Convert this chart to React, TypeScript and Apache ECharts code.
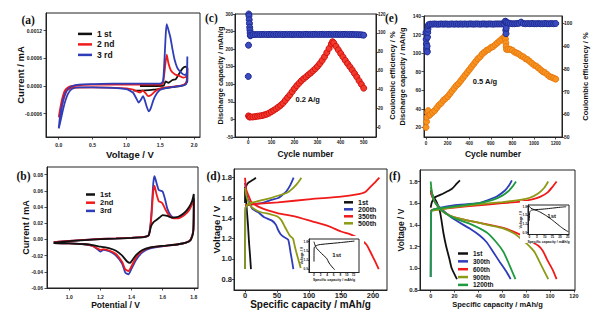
import React, { useEffect, useRef } from "react";
import * as echarts from "echarts";

// ---------- (a) CV curves: [voltage V, current mA]
const cvA1st: number[][] = [[1.2,0.0],[1.4,0.0],[1.55,0.00001],[1.58,0.0001],[1.62,0.00007],[1.68,0.00013],[1.73,0.00015],[1.78,0.00027],[1.83,0.00038],[1.87,0.00042],[1.9,0.00038],[1.9,0.0001],[1.85,0.00002],[1.7,-0.00002],[1.6,-0.00004],[1.4,-0.00008],[1.2,-0.0001],[1.1,-0.0001]];
const cvA2nd: number[][] = [[0,-0.00068],[0.02,-0.0005],[0.05,-0.00028],[0.09,-0.0001],[0.14,-0.00003],[0.2,0.0],[0.5,0.00003],[1.0,0.00003],[1.5,0.00003],[1.54,0.00006],[1.57,0.0004],[1.595,0.00068],[1.62,0.0005],[1.66,0.00033],[1.72,0.00025],[1.78,0.00022],[1.84,0.00018],[1.88,0.0002],[1.9,0.0004],[1.895,0.00012],[1.86,0.00004],[1.78,0.0],[1.65,-0.00002],[1.5,-0.00005],[1.42,-0.00012],[1.36,-0.0002],[1.32,-0.00022],[1.28,-0.00015],[1.24,-0.0001],[1.2,-0.00014],[1.16,-0.00012],[1.1,-0.00008],[1.0,-0.00005],[0.5,-0.00003],[0.2,-0.00004],[0.12,-0.0001],[0.06,-0.00035],[0.02,-0.00058],[0,-0.00068]];
const cvA3rd: number[][] = [[0,-0.00092],[0.02,-0.00065],[0.05,-0.0004],[0.09,-0.00018],[0.14,-0.00006],[0.2,0.0],[0.3,0.00003],[0.5,0.00004],[0.8,0.00005],[1.2,0.00005],[1.5,0.00005],[1.54,0.0001],[1.56,0.0005],[1.58,0.0011],[1.595,0.00134],[1.62,0.00122],[1.65,0.00105],[1.68,0.0008],[1.71,0.00058],[1.75,0.0004],[1.8,0.0003],[1.86,0.00024],[1.89,0.00026],[1.9,0.00064],[1.895,0.0002],[1.88,0.00004],[1.8,0.0],[1.7,-0.00002],[1.6,-0.00004],[1.5,-0.00008],[1.45,-0.00016],[1.4,-0.0003],[1.36,-0.00048],[1.33,-0.00055],[1.3,-0.00045],[1.27,-0.0003],[1.245,-0.00022],[1.21,-0.00031],[1.18,-0.00036],[1.15,-0.00028],[1.1,-0.00015],[1.05,-0.0001],[1.0,-0.00007],[0.8,-0.00004],[0.5,-0.00003],[0.3,-0.00003],[0.2,-0.00006],[0.14,-0.00016],[0.09,-0.00036],[0.05,-0.0006],[0.02,-0.0008],[0,-0.00092]];
const aVoltTicks = [0, 0.5, 1.0, 1.5, 2.0];
const aCurrentTicks = [-0.0006, 0, 0.0006, 0.0012];

// ---------- (b) CV curves: [potential V, current mA]
const cvB1st: number[][] = [[0.9,-0.004],[1.0,-0.0022],[1.1,-0.0008],[1.2,0.0003],[1.3,0.001],[1.4,0.0018],[1.48,0.0028],[1.51,0.005],[1.525,0.016],[1.54,0.021],[1.56,0.024],[1.58,0.027],[1.6,0.03],[1.63,0.029],[1.66,0.027],[1.7,0.028],[1.74,0.033],[1.77,0.04],[1.79,0.048],[1.8,0.056],[1.797,0.01],[1.78,-0.001],[1.75,-0.004],[1.7,-0.006],[1.6,-0.008],[1.52,-0.01],[1.47,-0.013],[1.43,-0.019],[1.4,-0.027],[1.39,-0.029],[1.37,-0.027],[1.34,-0.02],[1.3,-0.014],[1.26,-0.011],[1.2,-0.009],[1.15,-0.007],[1.1,-0.006],[1.0,-0.005],[0.9,-0.0045]];
const cvB2nd: number[][] = [[0.9,-0.0035],[1.0,-0.0018],[1.1,-0.0005],[1.2,0.0005],[1.3,0.0012],[1.4,0.002],[1.48,0.003],[1.51,0.005],[1.525,0.022],[1.54,0.06],[1.548,0.066],[1.56,0.056],[1.575,0.047],[1.59,0.046],[1.6,0.044],[1.615,0.038],[1.64,0.03],[1.67,0.026],[1.7,0.026],[1.74,0.03],[1.77,0.036],[1.79,0.044],[1.8,0.05],[1.797,0.011],[1.78,0.0],[1.75,-0.004],[1.7,-0.006],[1.6,-0.008],[1.52,-0.01],[1.47,-0.014],[1.43,-0.022],[1.4,-0.033],[1.38,-0.039],[1.36,-0.037],[1.34,-0.028],[1.3,-0.018],[1.26,-0.014],[1.22,-0.012],[1.2,-0.013],[1.18,-0.011],[1.15,-0.008],[1.1,-0.006],[1.0,-0.005],[0.9,-0.0045]];
const cvB3rd: number[][] = [[0.9,-0.0035],[1.0,-0.0018],[1.1,-0.0005],[1.2,0.0005],[1.3,0.0012],[1.4,0.002],[1.48,0.003],[1.51,0.005],[1.525,0.025],[1.54,0.07],[1.548,0.078],[1.56,0.07],[1.575,0.061],[1.59,0.06],[1.6,0.059],[1.615,0.05],[1.63,0.038],[1.65,0.03],[1.67,0.027],[1.7,0.027],[1.74,0.031],[1.77,0.037],[1.79,0.045],[1.8,0.051],[1.797,0.012],[1.78,0.0],[1.75,-0.004],[1.7,-0.006],[1.6,-0.0085],[1.52,-0.011],[1.47,-0.016],[1.43,-0.025],[1.4,-0.036],[1.38,-0.043],[1.36,-0.041],[1.34,-0.03],[1.3,-0.02],[1.26,-0.015],[1.22,-0.013],[1.2,-0.015],[1.18,-0.012],[1.15,-0.008],[1.1,-0.006],[1.0,-0.005],[0.9,-0.0045]];
const bPotTicks = [1.0, 1.2, 1.4, 1.6, 1.8];
const bCurrentTicks = [-0.06, -0.04, -0.02, 0, 0.02, 0.04, 0.06, 0.08];

// ---------- (c) cycling at 0.2 A/g
const cCycles = [1,5,10,20,30,40,50,60,70,80,90,100,110,120,130,140,150,160,170,180,190,200,210,220,230,240,250,260,270,280,290,300,310,320,330,340,350,360,365,370,380,390,400,410,420,430,440,450,460,470,480,490,500];
const cCapacity = [10,7,7,7,8,9,10,11,13,15,18,22,26,30,35,40,46,54,62,70,79,88,96,103,110,116,121,127,132,138,144,151,159,168,178,190,202,215,221,218,208,198,188,178,168,159,150,141,131,121,110,100,89];
const cCeCycles = [0,1,2,3,4,5,6,7,8,9,10,20,30,40,50,60,70,80,90,100,110,120,130,140,150,160,170,180,190,200,210,220,230,240,250,260,270,280,290,300,310,320,330,340,350,360,370,380,390,400,410,420,430,440,450,460,470,480,490,500];
const cCe = [54,87,120,118,114,110,106,103,100,97,97.5,98.2,98.3,98.4,98.3,98.4,98.4,98.3,98.4,98.4,98.3,98.4,98.4,98.4,98.3,98.4,98.4,98.4,98.3,98.4,98.4,98.4,98.3,98.4,98.5,98.4,98.4,98.4,98.5,98.4,98.4,98.5,98.4,98.4,98.5,98.4,98.4,98.5,98.4,98.4,98.4,98.5,98.4,98.3,98.4,98.3,98.2,98.1,98.0,97.6];
const cCycleTicks = [0, 100, 200, 300, 400, 500];
const cCapTicks = [-50, 0, 50, 100, 150, 200, 250, 300];
const cCeTicks = [0, 20, 40, 60, 80, 100, 120];

// ---------- (e) cycling at 0.5 A/g
const eCycles = [0,5,10,15,20,30,40,60,80,100,120,140,160,180,200,220,240,260,280,300,320,340,360,380,400,420,440,460,480,500,520,540,560,580,600,620,640,660,680,700,720,730,735,738,742,745,760,780,800,820,840,860,880,900,920,940,960,980,1000,1020,1040,1060,1080,1100,1120,1140,1160,1180,1200];
const eCapacity = [20,26,31,36,38,33,34,36,38,41,44,46,49,51,53,56,59,62,65,67,70,73,76,79,82,85,88,91,94,96,99,101,103,104,106,107,109,111,113,115,117,118,115,111,107,104,104,104,103,101,100,99,97,96,94,93,91,89,87,86,84,82,80,79,77,75,74,73,72];
const eCeCycles = [0,2,4,6,8,10,12,14,16,18,20,25,40,60,80,100,120,140,160,180,200,220,240,260,280,300,320,340,360,380,400,420,440,460,480,500,520,540,560,580,600,620,640,660,680,700,720,730,735,738,740,742,745,760,780,800,820,840,860,880,900,920,940,960,980,1000,1020,1040,1060,1080,1100,1120,1140,1160,1180,1200];
const eCe = [96,93,91,89,88,90,87.5,94,96,97.5,99,99.5,99.7,99.7,99.8,99.7,99.7,99.8,99.7,99.8,99.7,99.7,99.8,99.7,99.8,99.7,99.8,99.7,99.8,99.7,99.8,99.8,99.7,99.8,99.8,99.7,99.8,99.8,99.7,99.8,99.8,99.7,99.8,99.8,99.8,99.8,99.9,100.8,101,97,95.5,98,100.5,100.2,100,99.9,99.9,100,100.1,100.6,100,99.9,100,99.9,100,99.9,99.9,100,99.9,99.9,100,99.9,99.9,100,99.9,100];
const eCycleTicks = [0, 200, 400, 600, 800, 1000, 1200];
const eCapTicks = [20, 40, 60, 80, 100, 120, 140];
const eCeTicks = [50, 60, 70, 80, 90, 100];

// ---------- (d) charge/discharge at 0.2 A/g: [capacity mAh/g, voltage V]
const d1stCharge: number[][] = [[0,1.55],[0.5,1.69],[2,1.72],[5,1.75],[10,1.77],[14,1.785],[17,1.8]];
const d1stDischarge: number[][] = [[0,1.71],[1.5,1.6],[3,1.47],[4.7,1.33],[6.2,1.17],[7.8,1.04],[9.3,0.9]];
const d200Charge: number[][] = [[0,0.9],[0.3,1.3],[0.8,1.5],[3,1.53],[15,1.54],[26,1.55],[40,1.58],[52,1.6],[60,1.64],[65,1.67],[71,1.73],[76,1.8]];
const d200Discharge: number[][] = [[0,1.75],[3,1.62],[7,1.55],[12,1.49],[20.7,1.46],[30,1.41],[41.5,1.38],[48,1.34],[51.8,1.285],[56,1.24],[59.6,1.22],[67.4,1.19],[71,1.07],[73.5,0.98],[75.6,0.9]];
const d350Charge: number[][] = [[0,1.53],[20,1.545],[51.5,1.557],[103,1.59],[150,1.613],[175,1.636],[188,1.66],[196,1.71],[204,1.76],[210,1.8]];
const d350Discharge: number[][] = [[0,1.8],[2,1.68],[5.2,1.63],[10,1.56],[26,1.5],[51.8,1.45],[77.7,1.42],[105,1.37],[129.5,1.325],[150,1.27],[165.8,1.24],[181,1.19],[190,1.14],[197,1.056],[203,0.98],[209,0.9]];
const d500Charge: number[][] = [[0,0.9],[0.3,1.3],[0.8,1.5],[5,1.54],[20,1.57],[40,1.6],[55,1.63],[65,1.65],[72,1.68],[80,1.73],[85,1.77],[88,1.8]];
const d500Discharge: number[][] = [[0,1.7],[3,1.6],[8,1.53],[15,1.49],[25,1.46],[40,1.44],[50,1.42],[57,1.38],[62,1.32],[65,1.285],[70,1.23],[75,1.2],[78,1.12],[80,1.07],[84,0.98],[87,0.91]];
const dCapTicks = [0, 50, 100, 150, 200];
const dVoltTicks = [0.8, 1.0, 1.2, 1.4, 1.6, 1.8];
const dInsetCharge: number[][] = [[0,1.15],[0.05,1.6],[0.5,1.66],[1.5,1.7],[4,1.73],[8,1.77],[12.3,1.82]];
const dInsetDischarge: number[][] = [[0,1.8],[0.2,1.72],[0.8,1.58],[1.8,1.47],[2.8,1.36],[3.8,1.26],[4.6,1.1],[5.3,1.0],[6.3,0.88]];
const dInsetCapTicks = [0, 2, 4, 6, 8, 10, 12];
const insetVoltTicks = [0.9, 1.2, 1.5, 1.8];

// ---------- (f) charge/discharge at 0.5 A/g
const f1stCharge: number[][] = [[0,1.56],[1,1.61],[3.6,1.655],[10.6,1.69],[17.6,1.73],[21.8,1.78],[24.5,1.81]];
const f1stDischarge: number[][] = [[0,1.72],[1.7,1.67],[5,1.61],[7.8,1.52],[9.2,1.43],[10.6,1.33],[12.8,1.21],[15.6,1.09],[17.6,1.0],[22,0.9]];
const f300Charge: number[][] = [[0,0.92],[0.2,1.4],[0.6,1.53],[5,1.55],[19,1.58],[40,1.6],[46.9,1.625],[55,1.66],[62.2,1.717],[66,1.77],[68,1.81]];
const f300Discharge: number[][] = [[0,1.7],[2.2,1.64],[6,1.58],[10.6,1.53],[19,1.456],[33,1.364],[41.3,1.3],[46.9,1.24],[52.4,1.15],[58,1.056],[63.7,0.964],[67,0.9]];
const f600Charge: number[][] = [[0,1.53],[2,1.54],[20,1.56],[40,1.58],[60,1.6],[75,1.615],[85,1.635],[92,1.66],[98,1.7],[102,1.75],[105.5,1.8]];
const f600Discharge: number[][] = [[0,1.7],[3,1.62],[7,1.56],[12,1.51],[20,1.47],[40,1.42],[60,1.375],[75,1.31],[84,1.25],[90,1.21],[94,1.16],[98,1.07],[102,0.99],[105.5,0.9]];
const f900Charge: number[][] = [[0,1.53],[20,1.565],[40,1.59],[60,1.61],[75,1.63],[83,1.65],[90,1.69],[95,1.74],[98.5,1.8]];
const f900Discharge: number[][] = [[0,1.75],[3,1.62],[7,1.56],[12,1.51],[20,1.47],[40,1.42],[60,1.37],[70,1.32],[78,1.25],[83,1.2],[87,1.15],[93,1.02],[98.5,0.9]];
const f1200Charge: number[][] = [[0,0.92],[0.2,1.45],[0.6,1.53],[5,1.55],[20,1.57],[40,1.6],[52,1.63],[60,1.67],[65,1.71],[69,1.76],[71.5,1.8]];
const f1200Discharge: number[][] = [[0,1.8],[1,1.7],[3,1.62],[7,1.56],[12,1.51],[20,1.46],[33,1.41],[47,1.33],[55,1.24],[61,1.15],[66,1.03],[71,0.9]];
const fCapTicks = [0, 20, 40, 60, 80, 100, 120];
const fVoltTicks = [0.8, 1.0, 1.2, 1.4, 1.6, 1.8];
const fInsetCharge: number[][] = [[0,1.3],[0.3,1.62],[1.5,1.68],[5,1.7],[10,1.72],[15,1.75],[20,1.78],[24,1.8]];
const fInsetDischarge: number[][] = [[0,1.82],[1,1.75],[3,1.7],[6,1.64],[9,1.55],[12,1.45],[15,1.33],[18,1.2],[21,1.07],[24,0.96],[25.5,0.92]];
const fInsetCapTicks = [0, 5, 10, 15, 20, 25];

const SANS = "'Liberation Sans', Arial, sans-serif";
const SERIF = "'Liberation Serif', 'DejaVu Serif', serif";
const BLACK = "#111111";
const RED = "#f01a1a";
const BLUE = "#2f3db8";
const OLIVE = "#8c9a14";
const GREEN = "#1f9a40";
const AX = "#222222";

function zip(xs: number[], ys: number[]) {
  return xs.map((x, i) => [x, ys[i]]);
}

function axis(o: any) {
  return {
    type: "value",
    gridIndex: o.grid,
    min: o.min,
    max: o.max,
    position: o.position,
    z: o.z,
    axisLine: { show: true, onZero: false, lineStyle: { color: AX, width: 1 } },
    axisTick: { show: true, inside: false, length: o.tickLen ?? 2.5, lineStyle: { color: AX, width: 0.8 }, customValues: o.ticks },
    axisLabel: {
      show: true,
      customValues: o.ticks,
      formatter: (v: number) => v.toFixed(o.dec),
      fontSize: o.fs,
      fontWeight: "bold",
      fontFamily: SANS,
      color: AX,
      margin: o.margin,
    },
    splitLine: { show: false },
    name: o.name,
    nameLocation: "middle",
    nameGap: o.nameGap,
    nameMoveOverlap: false,
    nameTextStyle: { fontSize: o.nameFs, fontWeight: "bold", fontFamily: SANS, color: BLACK, padding: o.namePad ?? 0 },
  };
}

function curve(name: string, data: number[][], color: string, xi: number, yi: number, width = 1.8, z = 2) {
  return {
    type: "line",
    name,
    data,
    xAxisIndex: xi,
    yAxisIndex: yi,
    showSymbol: false,
    symbol: "none",
    smooth: 0.2,
    lineStyle: { color, width },
    itemStyle: { color },
    z,
  };
}

function dots(name: string, data: number[][], fill: string, border: string, xi: number, yi: number) {
  return {
    type: "scatter",
    name,
    data,
    xAxisIndex: xi,
    yAxisIndex: yi,
    symbol: "circle",
    symbolSize: 6,
    itemStyle: { color: fill, borderColor: border, borderWidth: 1, opacity: 1 },
  };
}

function legend(o: any) {
  return {
    show: true,
    orient: "vertical",
    left: o.left,
    top: o.top,
    padding: 0,
    itemGap: o.gap,
    itemWidth: o.iw,
    itemHeight: 2.5,
    icon: "rect",
    selectedMode: false,
    data: o.data,
    textStyle: { fontSize: o.fs, lineHeight: o.fs, fontWeight: "bold", fontFamily: SANS, color: BLACK, padding: 0 },
  };
}

function label(text: string, x: number, y: number, fs: number, family = SANS, align = "left") {
  return {
    type: "text",
    x,
    y,
    z: 10,
    style: { text, fontSize: fs, fontWeight: "bold", fontFamily: family, fill: BLACK, align, verticalAlign: "middle" },
  };
}

function buildOption() {
  const g = (left: number, top: number, width: number, height: number, z = 0) => ({
    left, top, width, height, z,
    show: true,
    borderColor: AX,
    borderWidth: 1,
    backgroundColor: "transparent",
    containLabel: false,
    outerBoundsMode: "none",
  });
  const grid = [
    g(46, 13, 154, 124),
    g(47, 167, 151, 121),
    g(235, 14, 141, 123),
    g(234, 169, 153, 121),
    g(424, 16, 138, 121),
    g(420, 170, 155, 120),
    g(309, 239, 50, 33.5, 5),
    g(528, 205, 41, 29.5, 5),
  ];
  const xAxis = [
    axis({ grid: 0, min: -0.188, max: 2.087, ticks: aVoltTicks, dec: 1, fs: 5, margin: 5, name: "Voltage / V", nameGap: 12.5, nameFs: 9.5, namePad: [0, 0, 0, 14] }),
    axis({ grid: 1, min: 0.857, max: 1.827, ticks: bPotTicks, dec: 1, fs: 5, margin: 6, name: "Potential / V", nameGap: 12.5, nameFs: 8.5, namePad: [0, 14, 0, 0] }),
    axis({ grid: 2, min: -57.6, max: 553.3, ticks: cCycleTicks, dec: 0, fs: 4.5, margin: 3, name: "Cycle number", nameGap: 12.5, nameFs: 8.5 }),
    axis({ grid: 3, min: -17.2, max: 221.9, ticks: dCapTicks, dec: 0, fs: 7.5, margin: 1.5, name: "Specific capacity / mAh/g", nameGap: 9.5, nameFs: 10 }),
    axis({ grid: 4, min: -18.5, max: 1258, ticks: eCycleTicks, dec: 0, fs: 4.5, margin: 3.5, name: "Cycle number", nameGap: 12.5, nameFs: 8.5 }),
    axis({ grid: 5, min: -8.96, max: 120.9, ticks: fCapTicks, dec: 0, fs: 5.5, margin: 3, name: "Specific capacity / mAh/g", nameGap: 10, nameFs: 7.5 }),
    axis({ grid: 6, min: -1.52, max: 13.7, ticks: dInsetCapTicks, dec: 0, fs: 3.2, margin: 1, tickLen: 1, name: "Specific capacity / mAh/g", nameGap: 5, nameFs: 3.5, z: 5 }),
    axis({ grid: 7, min: -0.85, max: 25.86, ticks: fInsetCapTicks, dec: 0, fs: 3.2, margin: 1, tickLen: 1, name: "Specific capacity / mAh/g", nameGap: 5, nameFs: 3.5, z: 5 }),
  ];
  const yAxis = [
    axis({ grid: 0, min: -0.001105, max: 0.001581, ticks: aCurrentTicks, dec: 4, fs: 5, margin: 4, name: "Current / mA", nameGap: 21, nameFs: 9.5 }),
    axis({ grid: 1, min: -0.06, max: 0.0894, ticks: bCurrentTicks, dec: 2, fs: 5, margin: 4, name: "Current / mA", nameGap: 17, nameFs: 9 }),
    axis({ grid: 2, min: -50, max: 300, ticks: cCapTicks, dec: 0, fs: 4.5, margin: 2, name: "Discharge capacity / mAh/g", nameGap: 11, nameFs: 7.5 }),
    axis({ grid: 2, min: -10, max: 120, ticks: cCeTicks, dec: 0, fs: 4.5, margin: 2, position: "right", name: "Coulombic efficiency / %", nameGap: 12, nameFs: 7.5 }),
    axis({ grid: 3, min: 0.694, max: 1.886, ticks: dVoltTicks, dec: 1, fs: 7.5, margin: 2, name: "Voltage / V", nameGap: 12.5, nameFs: 9.5 }),
    axis({ grid: 4, min: 9.6, max: 140, ticks: eCapTicks, dec: 0, fs: 5, margin: 3, name: "Discharge capacity / mAh/g", nameGap: 18, nameFs: 7.5 }),
    axis({ grid: 4, min: 50, max: 103.3, ticks: eCeTicks, dec: 0, fs: 5, margin: 2, position: "right", name: "Coulombic efficiency / %", nameGap: 19, nameFs: 7.5 }),
    axis({ grid: 5, min: 0.8, max: 1.906, ticks: fVoltTicks, dec: 1, fs: 6, margin: 2.5, name: "Voltage / V", nameGap: 15, nameFs: 8.5 }),
    axis({ grid: 6, min: 0.79, max: 1.888, ticks: insetVoltTicks, dec: 1, fs: 3.2, margin: 1, tickLen: 1, name: "Voltage / V", nameGap: 5.5, nameFs: 3.5, z: 5 }),
    axis({ grid: 7, min: 0.822, max: 1.86, ticks: insetVoltTicks, dec: 1, fs: 3.2, margin: 1, tickLen: 1, name: "Voltage / V", nameGap: 5.5, nameFs: 3.5, z: 5 }),
  ];

  const series: any[] = [
    // (a)
    curve("1 st", cvA1st, BLACK, 0, 0),
    curve("2 nd", cvA2nd, RED, 0, 0),
    curve("3 rd", cvA3rd, BLUE, 0, 0),
    // (b)
    curve("3rd", cvB3rd, BLUE, 1, 1),
    curve("2nd", cvB2nd, RED, 1, 1),
    curve("1st", cvB1st, BLACK, 1, 1),
    // (c)
    dots("Discharge capacity 0.2 A/g", zip(cCycles, cCapacity), "#f23a2c", "#d41010", 2, 2),
    dots("Coulombic efficiency 0.2 A/g", zip(cCeCycles, cCe), "#3b4cc0", "#1e2a90", 2, 3),
    // (d)
    curve("1st", d1stCharge, BLACK, 3, 4),
    curve("1st", d1stDischarge, BLACK, 3, 4),
    curve("200th", d200Charge, BLUE, 3, 4),
    curve("200th", d200Discharge, BLUE, 3, 4),
    curve("350th", d350Charge, RED, 3, 4),
    curve("350th", d350Discharge, RED, 3, 4),
    curve("500th", d500Charge, OLIVE, 3, 4),
    curve("500th", d500Discharge, OLIVE, 3, 4),
    // (e)
    dots("Discharge capacity 0.5 A/g", zip(eCycles, eCapacity), "#f8931f", "#e87a10", 4, 5),
    dots("Coulombic efficiency 0.5 A/g", zip(eCeCycles, eCe), "#3b4cc0", "#1e2a90", 4, 6),
    // (f)
    curve("1st", f1stCharge, BLACK, 5, 7),
    curve("1st", f1stDischarge, BLACK, 5, 7),
    curve("300th", f300Charge, BLUE, 5, 7),
    curve("300th", f300Discharge, BLUE, 5, 7),
    curve("600th", f600Charge, RED, 5, 7),
    curve("600th", f600Discharge, RED, 5, 7),
    curve("900th", f900Charge, OLIVE, 5, 7),
    curve("900th", f900Discharge, OLIVE, 5, 7),
    curve("1200th", f1200Charge, GREEN, 5, 7),
    curve("1200th", f1200Discharge, GREEN, 5, 7),
    // insets
    curve("inset d charge", dInsetCharge, BLACK, 6, 8, 1, 6),
    curve("inset d discharge", dInsetDischarge, BLACK, 6, 8, 1, 6),
    curve("inset f charge", fInsetCharge, BLACK, 7, 9, 1, 6),
    curve("inset f discharge", fInsetDischarge, BLACK, 7, 9, 1, 6),
  ];

  const legendList = [
    legend({ left: 78, top: 29.4, gap: 1.5, iw: 14, fs: 8.5, data: ["1 st", "2 nd", "3 rd"] }),
    legend({ left: 86, top: 190.5, gap: 0.2, iw: 9, fs: 7.5, data: ["1st", "2nd", "3rd"] }),
    legend({ left: 344, top: 198.8, gap: 0, iw: 9, fs: 7, data: ["1st", "200th", "350th", "500th"] }),
    legend({ left: 458, top: 250, gap: 0.85, iw: 10, fs: 6.5, data: ["1st", "300th", "600th", "900th", "1200th"] }),
  ];

  const graphic = [
    { type: "rect", z: 3, shape: { x: 302, y: 236, width: 62, height: 50 }, style: { fill: "#ffffff" } },
    { type: "rect", z: 3, shape: { x: 520, y: 201, width: 53, height: 42 }, style: { fill: "#ffffff" } },
    label("(a)", 21.5, 20, 11.5, SERIF),
    label("(b)", 16.5, 175.5, 11.5, SERIF),
    label("(c)", 205, 18, 11.5, SERIF),
    label("(d)", 206.5, 176, 11.5, SERIF),
    label("(e)", 385, 17.5, 11.5, SERIF),
    label("(f)", 389, 176, 11.5, SERIF),
    label("0.2 A/g", 307.7, 99, 7.5, SANS, "center"),
    label("0.5 A/g", 485, 81.7, 7.5, SANS, "center"),
    label("1st", 336.7, 255, 6, SANS, "center"),
    label("1st", 551.7, 216, 6, SANS, "center"),
  ];

  return {
    animation: false,
    backgroundColor: "#ffffff",
    grid,
    xAxis,
    yAxis,
    legend: legendList,
    series,
    graphic,
  };
}

export default function App() {
  const ref = useRef<HTMLDivElement>(null);
  useEffect(() => {
    if (!ref.current) return;
    const chart = echarts.init(ref.current, null, { renderer: "svg" });
    chart.setOption(buildOption() as any);
    return () => chart.dispose();
  }, []);
  return (
    <div
      ref={ref}
      style={{ position: "fixed", left: 0, top: 0, width: 596, height: 319, background: "#fff" }}
    />
  );
}
